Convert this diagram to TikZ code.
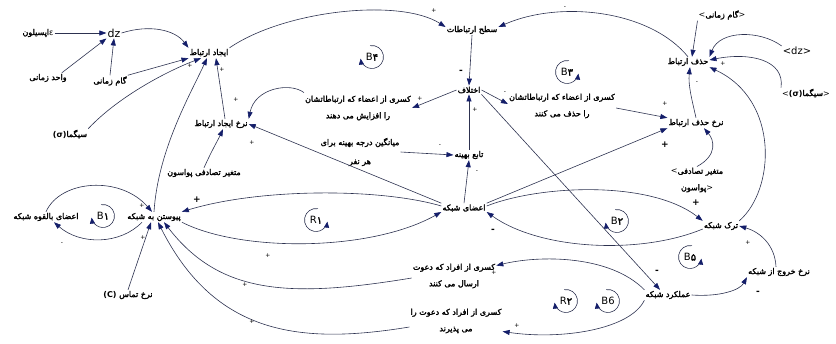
\documentclass[tikz,border=0pt]{standalone}
\usepackage{fontspec}
\setmainfont{DejaVu Sans}
\newfontfamily\arabicfont[Script=Arabic,FakeBold=2.2]{DejaVu Sans}
\TeXXeTstate=1
\usetikzlibrary{arrows.meta}
\definecolor{linec}{RGB}{45,50,80}
\definecolor{tipc}{RGB}{20,30,105}
\newcommand{\fa}[1]{\hbox{\arabicfont\beginR #1\endR}}
\newcommand{\cwloop}[3]{\node[looptxt] (#1) at #2 {#3};
  \draw[loopln] ([shift={(100:11.5pt)}]#1.center) arc[start angle=100, end angle=-172, radius=11.5pt];}
\newcommand{\ccwloop}[3]{\node[looptxt] (#1) at #2 {#3};
  \draw[loopln] ([shift={(80:11.5pt)}]#1.center) arc[start angle=80, end angle=352, radius=11.5pt];}
\begin{document}
\begin{tikzpicture}[x=1pt,y=-1pt,
  lbl/.style={inner sep=1pt, font=\fontsize{8}{16.5}\selectfont, align=center},
  conn/.style={draw=linec, line width=0.6pt, -{Triangle[width=5pt,length=7pt,color=tipc]}},
  loopln/.style={draw=linec, line width=0.6pt, -{Triangle[width=5pt,length=6pt,color=tipc]}},
  sgn/.style={font=\fontsize{6}{6}\selectfont, inner sep=0pt},
  bsgn/.style={font=\fontsize{9}{9}\selectfont\bfseries, inner sep=0pt},
  looptxt/.style={font=\fontsize{10}{10}\selectfont, inner sep=0pt}]
\useasboundingbox (0,0) rectangle (836,343);

% ---------- nodes ----------
\node[lbl] (eps) at (38,33) {\fa{اپسیلون}\hbox{ε}};
\node[lbl, font=\fontsize{11}{11}\selectfont] (dz) at (114,33) {dz};
\node[lbl] (vahed) at (48,78) {\fa{واحد زمانی}};
\node[lbl] (gam) at (110,81) {\fa{گام زمانی}};
\node[lbl] (ijad) at (209,53) {\fa{ایجاد ارتباط}};
\node[lbl] (sigma) at (70,134) {\hbox{\bfseries(σ)}\fa{سیگما}};
\node[lbl] (nijad) at (221,124) {\fa{نرخ ایجاد ارتباط}};
\node[lbl] (motp) at (204,173) {\fa{متغیر تصادفی پواسون}};
\node[lbl] (bel) at (46,217) {\fa{اعضای بالقوه شبکه}};
\node[lbl] (peyv) at (154,217) {\fa{پیوستن به شبکه}};
\node[lbl] (tamas) at (128,295) {\hbox{\bfseries(C)}\hspace{2.5pt}\fa{نرخ تماس}};
\node[lbl] (sath) at (472,30) {\fa{سطح ارتباطات}};
\node[lbl] (ekh) at (469,90) {\fa{اختلاف}};
\node[lbl] (kafz) at (358,108) {\fa{کسری از اعضاء که ارتباطاتشان}\\\fa{را افزایش می دهند}};
\node[lbl, font=\fontsize{8}{19}\selectfont] (mian) at (360,152) {\fa{میانگین درجه بهینه برای}\\\fa{هر نفر}};
\node[lbl] (tabe) at (469,155) {\fa{تابع بهینه}};
\node[lbl] (azaye) at (464,208) {\fa{اعضای شبکه}};
\node[lbl] (khazf) at (562,106) {\fa{کسری از اعضاء که ارتباطاتشان}\\\fa{را حذف می کنند}};
\node[lbl] (hazf) at (688,62) {\fa{حذف ارتباط}};
\node[lbl] (nhazf) at (696,123) {\fa{نرخ حذف ارتباط}};
\node[lbl] (gam2) at (722,15) {\hbox{\textless}\fa{گام زمانی}\hbox{\textgreater}};
\node[lbl, font=\fontsize{10}{10}\selectfont] (dz2) at (797,51) {\textless dz\textgreater};
\node[lbl] (sigma2) at (806,93) {\hbox{\textless}\hbox{\bfseries(σ)}\fa{سیگما}\hbox{\textgreater}};
\node[lbl] (motp2) at (697,180) {\hbox{\textless}\fa{متغیر تصادفی}\\\fa{پواسون}\hbox{\textgreater}};
\node[lbl] (tark) at (721,226) {\fa{ترک شبکه}};
\node[lbl] (khoruj) at (779,272) {\fa{نرخ خروج از شبکه}};
\node[lbl] (amal) at (668,295) {\fa{عملکرد شبکه}};
\node[lbl] (kdavat) at (454,276) {\fa{کسری از افراد که دعوت}\\\fa{ارسال می کنند}};
\node[lbl] (kpaz) at (456,321) {\fa{کسری از افراد که دعوت را}\\\fa{می پذیرند}};

% ---------- loops ----------
\cwloop{lB4}{(372,57)}{B{\arabicfont ۴}}
\ccwloop{lB3}{(567,72)}{B{\arabicfont ۳}}
\cwloop{lB1}{(103,216)}{B{\arabicfont ۱}}
\ccwloop{lR1}{(316,220)}{R{\arabicfont ۱}}
\cwloop{lB2}{(617,221)}{B{\arabicfont ۲}}
\ccwloop{lB5}{(690,257)}{B{\arabicfont ۵}}
\cwloop{lR2}{(566,301)}{R{\arabicfont ۲}}
\cwloop{lB6}{(608,301)}{B6}

% ---------- connectors ----------
\draw[conn] (eps.east) -- (dz.west);
\draw[conn] ([xshift=-6pt]vahed.north east) -- (dz.south west);
\draw[conn] (gam.north) -- (dz.south);
\draw[conn] (dz.east) .. controls (150,24) and (175,30) .. (ijad.north west);
\draw[conn] (gam.north east) -- (ijad.south west);
\draw[conn] (sigma.north east) .. controls (120,95) and (170,70) .. ([xshift=-8pt]ijad.south);
\draw[conn] (peyv.north) .. controls (158,150) and (190,95) .. ([xshift=-2pt]ijad.south);
\draw[conn] ([xshift=4pt]nijad.north) -- ([xshift=7pt]ijad.south);
\draw[conn] (ijad.north east) .. controls (285,10) and (400,-2) .. ([yshift=3pt]sath.west);
\draw[conn] (hazf.north) .. controls (650,10) and (560,0) .. ([yshift=3pt]sath.east);
\draw[conn] (sath.south) -- (ekh.north);
\draw[conn] (ekh.west) -- (kafz.east);
\draw[conn] (ekh.east) -- ([yshift=2pt]khazf.west);
\draw[conn] (tabe.north) -- (ekh.south);
\draw[conn] (ekh.south east) -- ([xshift=-8pt]amal.north);
\draw[conn] (mian.east) -- (tabe.west);
\draw[conn] (azaye.north) -- (tabe.south);
\draw[conn] (azaye.north west) -- (nijad.east);
\draw[conn] ([yshift=2pt]kafz.north west) .. controls (290,82) and (255,88) .. (nijad.north east);
\draw[conn] (motp.north) .. controls (212,150) and (218,140) .. ([xshift=2pt]nijad.south);
\draw[conn] ([yshift=2pt]azaye.west) .. controls (380,188) and (260,188) .. (peyv.north east);
\draw[conn] (peyv.south east) .. controls (240,252) and (370,252) .. ([yshift=-4pt]azaye.west);
\draw[conn] (bel.north) .. controls (60,180) and (120,175) .. ([xshift=-2pt]peyv.north);
\draw[conn] ([xshift=-12pt]peyv.south) .. controls (120,245) and (80,245) .. ([xshift=8pt]bel.south);
\draw[conn] (tamas.north) -- ([xshift=-3pt]peyv.south);
\draw[conn] ([yshift=-2pt]kdavat.west) .. controls (290,298) and (220,295) .. ([xshift=10pt]peyv.south);
\draw[conn] ([yshift=-6pt]kpaz.west) .. controls (300,345) and (215,335) .. ([xshift=4pt]peyv.south);
\draw[conn] (amal.north west) .. controls (610,255) and (540,255) .. ([yshift=-3pt]kdavat.north east);
\draw[conn] (amal.south west) .. controls (630,330) and (560,340) .. ([yshift=3pt]kpaz.south east);
\draw[conn] (amal.east) .. controls (720,297) and (740,290) .. (khoruj.south west);
\draw[conn] ([xshift=-3pt]khoruj.north) .. controls (775,245) and (760,232) .. (tark.east);
\draw[conn] ([yshift=-3pt]tark.west) .. controls (640,255) and (540,250) .. ([yshift=-4pt]azaye.east);
\draw[conn] ([yshift=2pt]azaye.east) .. controls (540,185) and (650,180) .. (tark.north west);
\draw[conn] (azaye.north east) -- (nhazf.south west);
\draw[conn] (motp2.north) .. controls (718,155) and (714,140) .. ([xshift=8pt]nhazf.south);
\draw[conn] ([yshift=-2pt]khazf.east) -- (nhazf.north west);
\draw[conn] (nhazf.north) .. controls (692,100) and (688,85) .. ([xshift=2pt]hazf.south);
\draw[conn] (gam2.south west) -- ([xshift=4pt]hazf.north);
\draw[conn] (dz2.north west) .. controls (760,30) and (720,30) .. (hazf.north east);
\draw[conn] (sigma2.north west) .. controls (785,60) and (750,52) .. ([yshift=2pt]hazf.east);
\draw[conn] (tark.north east) .. controls (775,190) and (780,100) .. (hazf.south east);

% ---------- polarity signs ----------
\node[sgn] (s1) at (190,66) {+};
\node[sgn] (s2) at (222,70) {+};
\node[sgn] (s3) at (434,11) {+};
\node[sgn] (s4) at (565,8) {-};
\node[bsgn] (s5) at (461,72) {-};
\node[sgn] (s6) at (420,99) {+};
\node[sgn] (s7) at (505,93) {-};
\node[sgn] (s8) at (475,110) {+};
\node[bsgn] (s9) at (657,272) {-};
\node[sgn] (s10) at (440,146) {-};
\node[sgn] (s11) at (477,172) {-};
\node[sgn] (s12) at (252,143) {+};
\node[sgn] (s13) at (236,100) {+};
\node[bsgn] (s14) at (197,200) {+};
\node[sgn] (s15) at (268,256) {+};
\node[sgn] (s16) at (142,206) {+};
\node[sgn] (s17) at (143,238) {+};
\node[sgn] (s18) at (62,244) {-};
\node[sgn] (s19) at (245,285) {+};
\node[sgn] (s20) at (252,322) {+};
\node[sgn] (s21) at (494,273) {+};
\node[sgn] (s22) at (517,326) {+};
\node[bsgn] (s23) at (758,293) {-};
\node[sgn] (s24) at (748,243) {+};
\node[bsgn] (s25) at (493,231) {-};
\node[bsgn] (s26) at (696,203) {+};
\node[bsgn] (s27) at (665,145) {+};
\node[sgn] (s28) at (665,104) {+};
\node[sgn] (s29) at (697,83) {-};
\node[sgn] (s30) at (723,64) {+};
\end{tikzpicture}
\end{document}
